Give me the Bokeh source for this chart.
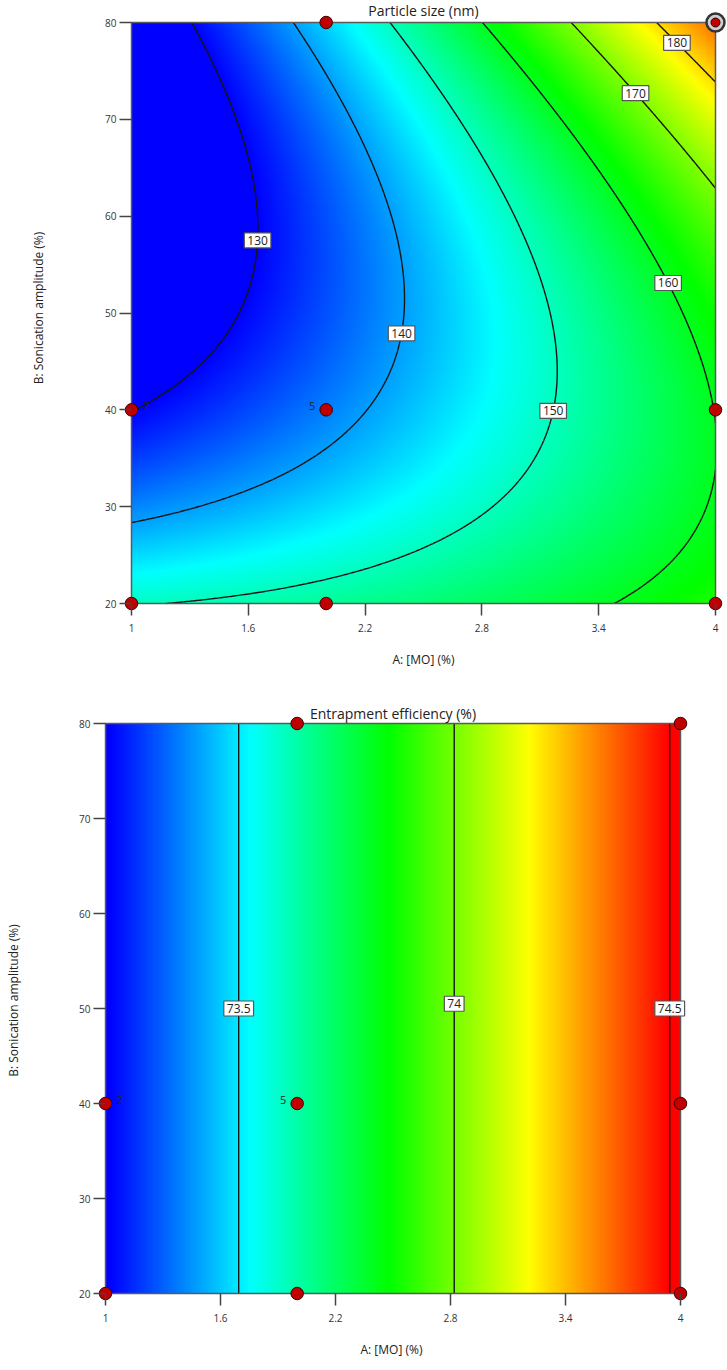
import numpy as np
from bokeh.plotting import figure
from bokeh.models import Range1d, FixedTicker, NumeralTickFormatter, Label
from bokeh.embed import file_html
from bokeh.resources import INLINE

FONT = "Open Sans"

# ---------------- data ----------------
x_ticks = [1, 1.6, 2.2, 2.8, 3.4, 4]
y_ticks = [20, 30, 40, 50, 60, 70, 80]
A_lo, A_hi = 1.0, 4.0
B_lo, B_hi = 20.0, 80.0

pt_A = [1, 1, 2, 2, 2, 4, 4, 4]
pt_B = [20, 40, 20, 40, 80, 20, 40, 80]
rep_A = [1, 2]
rep_B = [40, 40]
rep_n = ["2", "5"]

# particle size response-surface model (coded A, B): 1, a, b, ab, a^2, b^2
ps_coef = [141.27, 19.20, -0.47, 12.20, 2.14, 12.77]
ps_levels = [130, 140, 150, 160, 170, 180]
ps_label_B = [57.5, 47.9, 39.9, 53.1, 72.7, 77.9]
ps_label_hint = [1.66, 2.40, 3.15, 3.77, 3.59, 3.83]
ps_cmin, ps_cmax = 130.0, 194.0

# entrapment efficiency model (coded A): intercept, slope
ee_coef = [73.858, 0.667]
ee_levels = [73.5, 74.0, 74.5]
ee_label_B = [50.0, 50.5, 50.0]
ee_label_hint = [1.7, 2.8, 3.93]
ee_cmin, ee_cmax = 73.2, 74.5


def coded(A, B):
    return (np.asarray(A, float) - 2.5) / 1.5, (np.asarray(B, float) - 50.0) / 30.0


def ps_model(A, B):
    a, b = coded(A, B)
    c = ps_coef
    return c[0] + c[1] * a + c[2] * b + c[3] * a * b + c[4] * a * a + c[5] * b * b


def ee_model(A, B):
    a, b = coded(A, B)
    return ee_coef[0] + ee_coef[1] * a + 0 * b


stops = [0, 0.25, 0.5, 0.75, 1.0]
stop_r = [0, 0, 0, 255, 255]
stop_g = [0, 255, 255, 255, 0]
stop_b = [255, 255, 0, 0, 0]


def colorize(Z, lo, hi):
    t = np.clip((Z - lo) / (hi - lo), 0, 1)
    img = np.empty(Z.shape, dtype=np.uint32)
    v = img.view(dtype=np.uint8).reshape(Z.shape + (4,))
    v[..., 0] = np.interp(t, stops, stop_r)
    v[..., 1] = np.interp(t, stops, stop_g)
    v[..., 2] = np.interp(t, stops, stop_b)
    v[..., 3] = 255
    return img


def find_A(f, level, B, hint):
    As = np.linspace(A_lo, A_hi, 3001)
    vals = f(As, np.full_like(As, B)) - level
    idx = np.where(np.sign(vals[:-1]) != np.sign(vals[1:]))[0]
    if len(idx) == 0:
        return hint
    c = As[idx] - vals[idx] * (As[idx + 1] - As[idx]) / (vals[idx + 1] - vals[idx])
    return float(c[np.argmin(np.abs(c - hint))])


def make_panel(width, height, bl, br, bb, pads, title, title_off, model, levels, label_B,
               hints, cmin, cmax, ylab_standoff, ring):
    pl, pr, pt, pb = pads
    dw = width - bl - br - pl - pr
    dh = height - bb - pt - pb
    xr = Range1d(A_lo - pl * (A_hi - A_lo) / dw, A_hi + pr * (A_hi - A_lo) / dw)
    yr = Range1d(B_lo - pb * (B_hi - B_lo) / dh, B_hi + pt * (B_hi - B_lo) / dh)
    p = figure(width=width, height=height, x_range=xr, y_range=yr, output_backend="svg",
               toolbar_location=None, min_border_left=bl, min_border_right=br,
               min_border_top=0, min_border_bottom=bb)
    p.grid.visible = False
    p.outline_line_color = None

    xs = np.linspace(A_lo, A_hi, 361)
    ys = np.linspace(B_lo, B_hi, 361)
    AA, BB = np.meshgrid(xs, ys)
    Z = model(AA, BB)
    p.image_rgba(image=[colorize(Z, cmin, cmax)], x=A_lo, y=B_lo, dw=A_hi - A_lo, dh=B_hi - B_lo)
    p.contour(xs, ys, Z, levels, line_color="#151515", line_width=1.4)
    p.quad(left=[A_lo], right=[A_hi], bottom=[B_lo], top=[B_hi], fill_color=None,
           line_color="#5a5a5a", line_width=1.5)

    for lev, bl_, h in zip(levels, label_B, hints):
        ax = find_A(model, lev, bl_, h)
        txt = ("%g" % lev)
        p.add_layout(Label(x=ax, y=bl_, text=txt, text_align="center", text_baseline="middle",
                           text_font=FONT, text_font_size="12px", text_color="#222",
                           background_fill_color="white", border_line_color="#555",
                           border_line_width=1.2, padding=3))

    p.scatter(pt_A, pt_B, size=12.5, fill_color="#c00000", line_color="#3a0000", line_width=1)
    if ring:
        p.scatter([pt_A[-1]], [pt_B[-1]], size=18, fill_color="#cfcfcf", line_color="#333",
                  line_width=2.5)
        p.scatter([pt_A[-1]], [pt_B[-1]], size=9, fill_color="#c00000", line_color="#3a0000",
                  line_width=1)
    for ra, rb, rn, dx in zip(rep_A, rep_B, rep_n, [11, -11]):
        p.add_layout(Label(x=ra, y=rb, text=rn, x_offset=dx, y_offset=4,
                           text_align="left" if dx > 0 else "right", text_baseline="middle",
                           text_font=FONT, text_font_size="11px", text_color="#222"))

    p.add_layout(Label(x=(A_lo + A_hi) / 2, y=B_hi, y_offset=title_off, text=title,
                       text_align="center", text_baseline="alphabetic", text_font=FONT,
                       text_font_size="14px", text_color="#222"))

    for ax_ in (p.xaxis, p.yaxis):
        ax_.axis_line_color = None
        ax_.major_tick_out = 0
        ax_.minor_tick_line_color = None
        ax_.major_tick_line_color = "#444"
        ax_.major_tick_line_width = 1.5
        ax_.major_label_text_font = FONT
        ax_.major_label_text_font_size = "10px"
        ax_.major_label_text_color = "#333"
        ax_.axis_label_text_font = FONT
        ax_.axis_label_text_font_size = "12px"
        ax_.axis_label_text_font_style = "normal"
        ax_.axis_label_text_color = "#222"
    p.xaxis.ticker = FixedTicker(ticks=x_ticks)
    p.xaxis.formatter = NumeralTickFormatter(format="0.[0]")
    p.xaxis.major_tick_in = pb
    p.xaxis.major_label_standoff = 8
    p.xaxis.axis_label_standoff = 16
    p.xaxis.axis_label = "A: [MO] (%)"
    p.yaxis.ticker = FixedTicker(ticks=y_ticks)
    p.yaxis.formatter = NumeralTickFormatter(format="0")
    p.yaxis.major_tick_in = pl
    p.yaxis.major_label_standoff = 3
    p.yaxis.axis_label_standoff = ylab_standoff
    p.yaxis.axis_label = "B: Sonication amplitude (%)"
    return p


p1 = make_panel(727, 695, 119, 0, 80, (12, 12, 22, 12), "Particle size (nm)", 12, ps_model,
                ps_levels, ps_label_B, ps_label_hint, ps_cmin, ps_cmax, 55, True)
p2 = make_panel(715, 674, 93, 26, 64, (12, 9, 28, 12), "Entrapment efficiency (%)", 10, ee_model,
                ee_levels, ee_label_B, ee_label_hint, ee_cmin, ee_cmax, 54, False)

open("out.html", "w").write(file_html([p1, p2], INLINE))
